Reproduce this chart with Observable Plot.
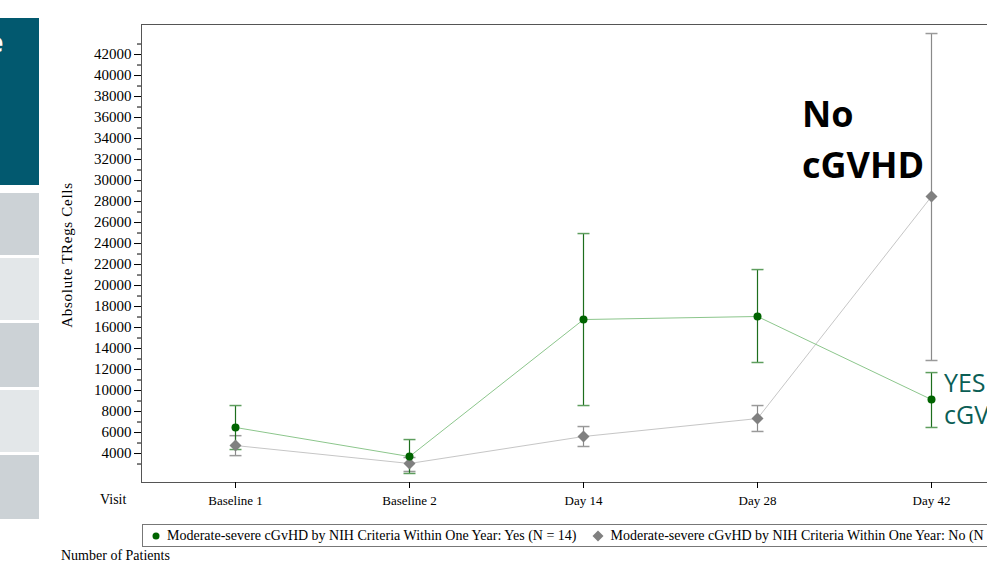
<!DOCTYPE html>
<html>
<head>
<meta charset="utf-8">
<script src="https://cdn.jsdelivr.net/npm/d3@7"></script>
<script src="https://cdn.jsdelivr.net/npm/@observablehq/plot@0.6"></script>
<style>
  html, body { margin: 0; padding: 0; width: 987px; height: 565px; overflow: hidden; background: #fff; }
  #wrap { position: relative; width: 987px; height: 565px; overflow: hidden; }
  .abs { position: absolute; }
  .serif { font-family: "Liberation Serif", "Times New Roman", serif; color: #000; }
  #chart svg { max-width: none !important; height: 515px !important; width: 1030px !important; }
</style>
</head>
<body>
<div id="wrap">
  <!-- slide side panel -->
  <div class="abs" style="left:0;top:18px;width:39px;height:167px;background:#02596f;overflow:hidden;">
    <div class="abs" style="left:-12px;top:6px;color:#fff;font:bold 26px 'Open Sans',sans-serif;">e</div>
  </div>
  <div class="abs" style="left:0;top:193px;width:39px;height:62px;background:#ccd2d6;"></div>
  <div class="abs" style="left:0;top:258px;width:39px;height:62px;background:#e3e7e9;"></div>
  <div class="abs" style="left:0;top:323px;width:39px;height:64px;background:#ccd2d6;"></div>
  <div class="abs" style="left:0;top:390px;width:39px;height:62px;background:#e3e7e9;"></div>
  <div class="abs" style="left:0;top:455px;width:39px;height:64px;background:#ccd2d6;"></div>

  <div id="chart" class="abs" style="left:0;top:0;"></div>

  <div id="ylab" class="abs serif" style="left:67px;top:255px;font-size:15px;letter-spacing:0.7px;white-space:nowrap;transform:translate(-50%,-50%) rotate(-90deg);"></div>

  <div class="abs serif" style="left:100px;top:492px;font-size:14px;">Visit</div>

  <div class="abs serif" style="left:142px;top:524px;width:900px;height:23px;border:1px solid #777;box-sizing:border-box;display:flex;align-items:center;white-space:nowrap;font-size:14px;">
    <svg width="10" height="10" style="margin-left:8px;margin-right:6px;"><circle cx="5" cy="5" r="3.5" fill="#006400"/></svg>
    <span id="leg1"></span>
    <svg width="12" height="12" style="margin-left:15px;margin-right:7px;"><path d="M6,0.5L11.5,6L6,11.5L0.5,6Z" fill="#808080"/></svg>
    <span id="leg2"></span>
  </div>

  <div class="abs serif" style="left:61px;top:548px;font-size:14px;">Number of Patients</div>

  <div class="abs" style="left:802px;top:88px;font:bold 36px/51px 'Open Sans',sans-serif;color:#000;">No<br>cGVHD</div>
  <div class="abs" style="left:944px;top:366px;font:25px/32px 'Open Sans',sans-serif;color:#0b5e55;white-space:nowrap;">YES<br>cGVHD</div>
</div>

<script>
// ---- data ----
const visits = ["Baseline 1", "Baseline 2", "Day 14", "Day 28", "Day 42"];

const yesMean  = [6480, 3710, 16760, 17050, 9140];
const yesLower = [4380, 2100, 8570, 12670, 6480];
const yesUpper = [8570, 5330, 24950, 21520, 11710];

const noMean  = [4760, 3050, 5620, 7330, 28480];
const noLower = [3800, 2290, 4670, 6100, 12860];
const noUpper = [5700, 3620, 6570, 8570, 44000];

const majorTicks = d3.range(4000, 42001, 2000);
const minorTicks = d3.range(3000, 43001, 2000);

const yesLabel = "Moderate-severe cGvHD by NIH Criteria Within One Year: Yes (N = 14)";
const noLabel  = "Moderate-severe cGvHD by NIH Criteria Within One Year: No (N = 11)";
const yLabel = "Absolute TRegs Cells";

// ---- tables ----
const yes = visits.map((v, i) => ({visit: v, mean: yesMean[i], lower: yesLower[i], upper: yesUpper[i]}));
const no  = visits.map((v, i) => ({visit: v, mean: noMean[i], lower: noLower[i], upper: noUpper[i]}));

document.getElementById("leg1").textContent = yesLabel;
document.getElementById("leg2").textContent = noLabel;
document.getElementById("ylab").textContent = yLabel;

const cap = { draw(ctx) { ctx.moveTo(-6, 0); ctx.lineTo(6, 0); } };

const green = "#006400", greenLine = "#8cc68c", greenBar = "#1d6e1d", greenCap = "#5e9e5e";
const gray = "#808080", grayLine = "#c6c6c6", grayBar = "#8a8a8a", grayCap = "#9a9a9a";

const chart = Plot.plot({
  width: 1030,
  height: 515,
  marginLeft: 141,
  marginTop: 24,
  marginBottom: 33,
  marginRight: 0,
  style: {fontFamily: "'Liberation Serif', 'Times New Roman', serif", fontSize: "13px", color: "#000", background: "transparent", overflow: "visible", maxWidth: "none"},
  x: {type: "point", domain: visits, range: [235, 931], padding: 0},
  y: {domain: [1240, 44860]},
  marks: [
    Plot.frame({stroke: "#555"}),
    Plot.axisY({ticks: minorTicks, tickSize: 4, text: null, label: null, stroke: "#000"}),
    Plot.axisY({ticks: majorTicks, tickSize: 7, tickPadding: 3, tickFormat: d => String(d), stroke: "#000",
                label: null, fontSize: 15}),
    Plot.axisX({tickSize: 6, tickPadding: 7, label: null, stroke: "#000", fontSize: 13}),

    Plot.line(no, {x: "visit", y: "mean", stroke: grayLine, strokeWidth: 1}),
    Plot.line(yes, {x: "visit", y: "mean", stroke: greenLine, strokeWidth: 1}),

    Plot.ruleX(no, {x: "visit", y1: "lower", y2: "upper", stroke: grayBar, strokeWidth: 1.2}),
    Plot.dot(no, {x: "visit", y: "upper", symbol: cap, fill: "none", stroke: grayCap, strokeWidth: 1.5}),
    Plot.dot(no, {x: "visit", y: "lower", symbol: cap, fill: "none", stroke: grayCap, strokeWidth: 1.5}),

    Plot.ruleX(yes, {x: "visit", y1: "lower", y2: "upper", stroke: greenBar, strokeWidth: 1.2}),
    Plot.dot(yes, {x: "visit", y: "upper", symbol: cap, fill: "none", stroke: greenCap, strokeWidth: 1.5}),
    Plot.dot(yes, {x: "visit", y: "lower", symbol: cap, fill: "none", stroke: greenCap, strokeWidth: 1.5}),

    Plot.dot(no, {x: "visit", y: "mean", symbol: "diamond2", r: 5.4, fill: gray, stroke: "none"}),
    Plot.dot(yes, {x: "visit", y: "mean", symbol: "circle", r: 4, fill: green, stroke: "none"})
  ]
});
document.getElementById("chart").appendChild(chart);
</script>
</body>
</html>
